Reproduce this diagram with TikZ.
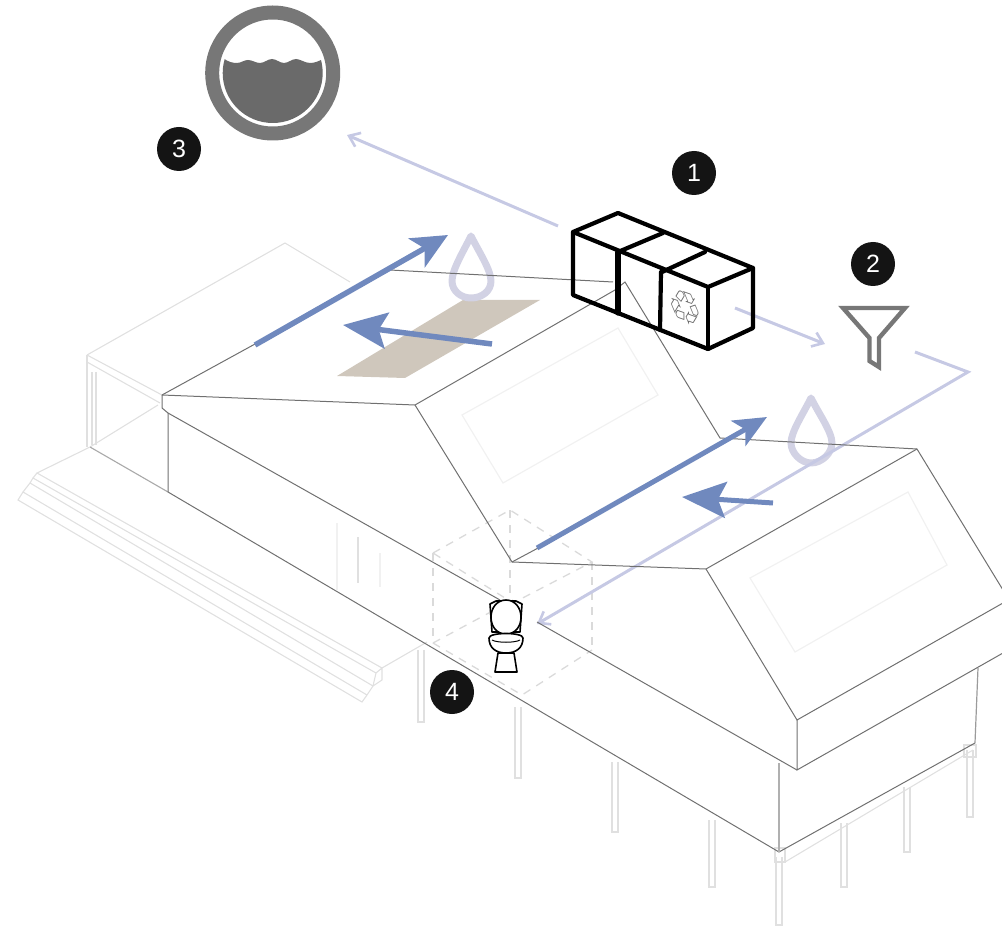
\documentclass[tikz,border=0pt]{standalone}
\usepackage{fontspec}
\setmainfont{Liberation Sans}
\newfontfamily\symfont{DejaVu Sans}
\usetikzlibrary{arrows.meta}
\definecolor{roofline}{HTML}{707070}
\definecolor{faintline}{HTML}{E0E0E0}
\definecolor{palerline}{HTML}{F1F1F1}
\definecolor{dashline}{HTML}{DADADA}
\definecolor{lav}{HTML}{C6C9E4}
\definecolor{dropc}{HTML}{D2D2E4}
\definecolor{flow}{HTML}{7089BE}
\definecolor{panelc}{HTML}{CFC7BC}
\definecolor{ringc}{HTML}{777777}
\definecolor{waterc}{HTML}{6A6A6A}
\tikzset{
  roof/.style={draw=roofline,line width=1pt},
  faint/.style={draw=faintline,line width=1.1pt},
  paler/.style={draw=palerline,line width=1.2pt},
  dashbox/.style={draw=dashline,line width=1.3pt,dash pattern=on 8pt off 7pt},
  postline/.style={draw=faintline,line width=1.2pt},
  lavline/.style={draw=lav,line width=3pt},
  lavarrow/.style={lavline,-{Straight Barb[length=10pt,width=15pt,line width=2.6pt]}},
  bigflow/.style={draw=flow,line width=5.5pt,-{Stealth[length=36pt,width=33pt,inset=9pt]}},
  midflow/.style={draw=flow,line width=5pt,-{Stealth[length=33pt,width=29pt,inset=8pt]}},
  backflow/.style={draw=flow,line width=5.5pt,-{Stealth[length=44pt,width=36pt,inset=8pt]}},
  dropline/.style={draw=dropc,line width=7pt,line join=round},
  cube/.style={draw=black,line width=4.2pt,line join=round,line cap=round},
  toilet/.style={draw=black,line width=1.6pt,fill=white,line join=round},
  badge/.style={circle,fill=black!92,text=white,minimum size=44pt,inner sep=0pt,font=\fontsize{25}{25}\selectfont}
}
\begin{document}
\begin{tikzpicture}[x=1pt,y=-1pt]
\useasboundingbox (0,0) rectangle (1002,933);
% faint porch and steps
\draw[faint] (87,355) -- (285,243) -- (350,282);
\draw[faint] (87,355) -- (162,395);
\draw[faint] (87,362) -- (160,403);
\draw[faint] (87,355) -- (87,447);
\draw[faint] (92,372) -- (92,445);
\draw[faint] (96,372) -- (96,445);
\draw[faint] (90,447) -- (158,405);
\draw[faint,draw=roofline!60] (90,447) -- (168,492);
\draw[faint] (90,447) -- (37,473) -- (382,668) -- (427,642);
\draw[faint] (37,473) -- (33,478) -- (376,673);
\draw[faint] (33,478) -- (30,483) -- (373,686);
\draw[faint] (30,483) -- (23,492) -- (367,695);
\draw[faint] (23,492) -- (18,500) -- (362,702) -- (367,695) -- (373,686) -- (376,673) -- (382,668) -- (382,680) -- (373,686);
% door
\draw[paler] (337,523) -- (337,590);
\draw[paler] (380,553) -- (380,587);
\draw[faint] (358,537) -- (358,583);
% skylights
\draw[paler] (462,415) -- (618,328) -- (658,395) -- (503,483) -- cycle;
\draw[paler] (750,578) -- (908,492) -- (947,565) -- (795,652) -- cycle;
% posts
\foreach \px/\pa/\pb in {421/650/722,518/707/778,615/762/832,712/820/887,779/857/925,844/823/887,907/787/852,970/750/817}{
  \draw[postline] (\px-3,\pa) -- (\px-3,\pb) -- (\px+3,\pb) -- (\px+3,\pa);
}
\draw[faint] (785,862) -- (973,750);
\draw[faint] (775,848) rectangle (785,862);
\draw[faint] (964,745) rectangle (976,757);
% dashed room
\draw[dashbox] (433,553) -- (510,510) -- (592,562) -- (513,603) -- cycle;
\draw[dashbox] (433,643) -- (513,600);
\draw[dashbox] (433,643) -- (522,695) -- (592,650);
\draw[dashbox] (592,562) -- (592,645);
\draw[dashbox] (433,553) -- (433,643);
\draw[dashbox] (510,510) -- (510,600);
% solar panel
\fill[panelc] (337,376) -- (463,300) -- (540,300) -- (405,378) -- cycle;
% drops
\draw[dropline] (471,236) .. controls (463,252) and (452,270) .. (452,281) .. controls (452,291) and (461,298) .. (471,298) .. controls (482,298) and (491,291) .. (491,281) .. controls (491,270) and (479,252) .. (471,236) -- cycle;
\draw[dropline] (811,398) .. controls (803,414) and (791,432) .. (791,443) .. controls (791,453) and (801,463) .. (811,463) .. controls (822,463) and (832,453) .. (832,443) .. controls (832,432) and (819,414) .. (811,398) -- cycle;
% lavender flows
\coordinate (cubeL) at (558,226);
\coordinate (tankEnd) at (347,135);
\coordinate (cubeR) at (735,308);
\coordinate (filterIn) at (825,344);
\coordinate (filterOut) at (915,352);
\coordinate (bendR) at (968,372);
\coordinate (toiletIn) at (537,624);
\draw[lavarrow] (cubeL) -- (tankEnd);
\draw[lavarrow] (cubeR) -- (filterIn);
\draw[lavarrow,line join=miter] (filterOut) -- (bendR) -- (toiletIn);
% roof
\draw[roof] (162,395) -- (390,270) -- (613,282);
\draw[roof] (162,395) -- (415,405) -- (615,290);
\draw[roof] (615,290) -- (625,282) -- (720,438) -- (917,449) -- (1003,590);
\draw[roof] (415,405) -- (512,562) -- (706,569) -- (917,449);
\draw[roof] (512,562) -- (540,547);
\draw[roof] (706,569) -- (797,720) -- (1003,603);
\draw[roof] (797,720) -- (797,770) -- (1003,653);
\draw[roof] (162,395) -- (162,408) -- (168,413) -- (500,600);
\draw[roof] (537,622) -- (797,770);
\draw[roof] (168,413) -- (168,492) -- (779,852) -- (975,743);
\draw[draw=roofline!70,line width=1.2pt] (975,743) -- (978,668);
\draw[draw=roofline!55,line width=1.6pt] (779,763) -- (779,852);
% blue flows
\coordinate (a1s) at (255,345);
\coordinate (a1e) at (448,235);
\coordinate (a2s) at (492,344);
\coordinate (a2e) at (343,325);
\coordinate (a3s) at (537,548);
\coordinate (a3e) at (767,417);
\coordinate (a4s) at (773,503);
\coordinate (a4e) at (682,497);
\draw[bigflow] (a1s) -- (a1e);
\draw[backflow] (a2s) -- (a2e);
\draw[midflow] (a3s) -- (a3e);
\draw[backflow,line width=5pt] (a4s) -- (a4e);
% cube
\draw[cube] (573,232) -- (618,213) -- (753,268) -- (708,287) -- cycle;
\draw[cube] (618,252) -- (663,233);
\draw[cube] (662,272) -- (705,252);
\draw[cube] (573,232) -- (573,295) -- (708,349) -- (753,328) -- (753,268);
\draw[cube] (708,287) -- (708,349);
\draw[cube,line width=5.2pt] (618,252) -- (618,313);
\draw[cube] (661,272) -- (660,330);
\node[text=black!60,font=\symfont\fontsize{44}{44}\selectfont,inner sep=0pt,transform shape,yslant=-0.35,xscale=0.85] (recycle) at (685,308) {\char"2672};
% water tank
\draw[ringc,line width=14pt] (272.7,73) circle (60.5);
\begin{scope}
\clip (272.7,73) circle (50);
\fill[waterc] (220,58) -- (223,58) .. controls (228,62) and (233,63) .. (237,63) .. controls (241,63) and (244,60) .. (248,60) .. controls (252,60) and (256,63) .. (260,63) .. controls (264,63) and (268,59) .. (272,59) .. controls (276,59) and (280,63) .. (284,63) .. controls (288,63) and (292,59) .. (296,59) .. controls (300,59) and (305,63) .. (310,63) .. controls (315,63) and (319,61) .. (323,59) -- (330,58) -- (330,130) -- (215,130) -- cycle;
\end{scope}
% funnel
\draw[ringc,line width=4.4pt,line join=miter] (843,308) -- (905,308) -- (879,338) -- (879,367) -- (869.5,361) -- (869.5,338) -- cycle;
% toilet
\draw[toilet] (490,604) -- (492,632) -- (520,632) -- (522,604) -- (516,601) -- (496,601) -- cycle;
\draw[toilet] (506,600) .. controls (515,600) and (521,608) .. (521,617) .. controls (521,627) and (515,634) .. (506,634) .. controls (497,634) and (491,627) .. (491,617) .. controls (491,608) and (497,600) .. (506,600) -- cycle;
\draw[toilet] (498,653) -- (495,672) -- (517,672) -- (514,653) -- cycle;
\draw[toilet] (489,638) .. controls (489,648) and (496,653) .. (506,653) .. controls (516,653) and (523,648) .. (523,638) .. controls (523,632) and (489,632) .. (489,638) -- cycle;
\draw[black,line width=1pt] (492,640) .. controls (497,643) and (515,643) .. (520,640);
% badges
\node[badge] (b1) at (694,173) {1};
\node[badge] (b2) at (873,264) {2};
\node[badge] (b3) at (179,149) {3};
\node[badge] (b4) at (452,692) {4};
\end{tikzpicture}
\end{document}
